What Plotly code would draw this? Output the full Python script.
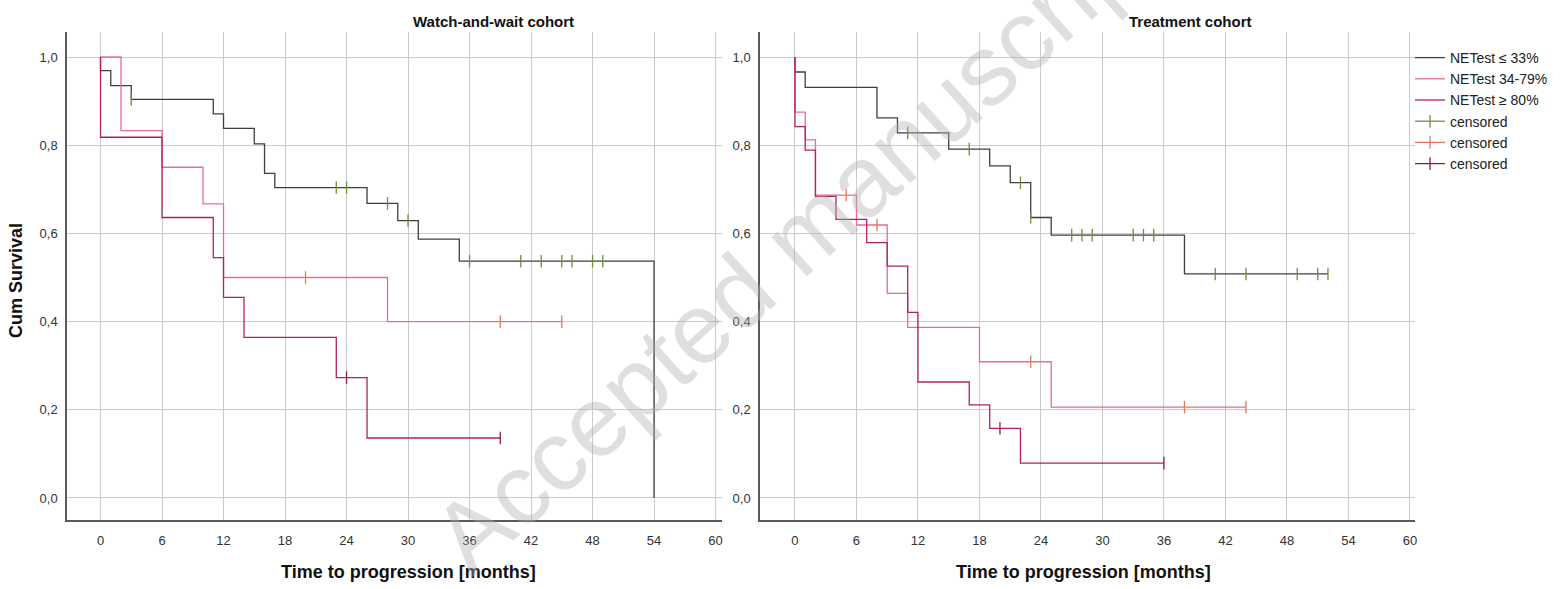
import plotly.graph_objects as go

# ---------------- data ----------------
# Watch-and-wait cohort: event times (months) and survival after each step
ww_low_t = [0, 1, 3, 11, 12, 15, 16, 17, 26, 29, 31, 35, 54]
ww_low_s = [0.969, 0.935, 0.904, 0.871, 0.838, 0.803, 0.736, 0.704, 0.668, 0.629, 0.587, 0.537, 0.0]
ww_low_end = 54
ww_low_cens_t = [3, 23, 24, 28, 30, 36, 41, 43, 45, 46, 48, 49]
ww_low_cens_s = [0.904, 0.704, 0.704, 0.668, 0.629, 0.537, 0.537, 0.537, 0.537, 0.537, 0.537, 0.537]

ww_mid_t = [2, 6, 10, 12, 28]
ww_mid_s = [0.833, 0.750, 0.667, 0.500, 0.400]
ww_mid_end = 45
ww_mid_cens_t = [20, 39, 45]
ww_mid_cens_s = [0.500, 0.400, 0.400]

ww_high_t = [0, 6, 11, 12, 14, 23, 26]
ww_high_s = [0.818, 0.636, 0.545, 0.455, 0.364, 0.273, 0.136]
ww_high_end = 39
ww_high_cens_t = [24, 39]
ww_high_cens_s = [0.273, 0.136]

# Treatment cohort
tr_low_t = [0, 1, 8, 10, 15, 19, 21, 23, 25, 38]
tr_low_s = [0.966, 0.931, 0.862, 0.828, 0.791, 0.753, 0.715, 0.636, 0.596, 0.508]
tr_low_end = 52
tr_low_cens_t = [11, 17, 22, 23, 27, 28, 29, 33, 34, 35, 41, 44, 49, 51, 52]
tr_low_cens_s = [0.828, 0.791, 0.715, 0.636, 0.596, 0.596, 0.596, 0.596, 0.596, 0.596,
                 0.508, 0.508, 0.508, 0.508, 0.508]

tr_mid_t = [0, 1, 2, 6, 9, 11, 18, 25]
tr_mid_s = [0.875, 0.812, 0.687, 0.619, 0.464, 0.387, 0.309, 0.206]
tr_mid_end = 44
tr_mid_cens_t = [5, 8, 23, 38, 44]
tr_mid_cens_s = [0.687, 0.619, 0.309, 0.206, 0.206]

tr_high_t = [0, 1, 2, 4, 7, 9, 11, 12, 17, 19, 22]
tr_high_s = [0.842, 0.789, 0.684, 0.632, 0.579, 0.526, 0.421, 0.263, 0.211, 0.158, 0.079]
tr_high_end = 36
tr_high_cens_t = [20, 36]
tr_high_cens_s = [0.158, 0.079]

group_names = ["NETest \u2264 33%", "NETest 34-79%", "NETest \u2265 80%"]
censor_name = "censored"
x_ticks = [0, 6, 12, 18, 24, 30, 36, 42, 48, 54, 60]
y_ticks = [0.0, 0.2, 0.4, 0.6, 0.8, 1.0]
y_ticktext = ["0,0", "0,2", "0,4", "0,6", "0,8", "1,0"]
panel_titles = ["Watch-and-wait cohort", "Treatment cohort"]
x_title = "Time to progression [months]"
y_title = "Cum Survival"
watermark = "Accepted manuscript"

# ---------------- styles ----------------
line_colors = ["#3f3f3f", "#e56f8a", "#b0235a"]
cens_colors = ["#6f8f3e", "#e8785a", "#8e1c43"]
FONT = "Liberation Sans, Arial, sans-serif"

# figure geometry (pixels)
W, H = 1566, 589
ML, MR, MT, MB = 67, 151, 32, 69
PW, PH = W - ML - MR, H - MT - MB


def px_x(p):
    return (p - ML) / PW


def px_y(p):
    return (H - MB - p) / PH


def step(ts, ss, end):
    xs, ys = [0], [1.0]
    for t, s in zip(ts, ss):
        xs.append(t)
        ys.append(s)
    if xs[-1] < end:
        xs.append(end)
        ys.append(ys[-1])
    return xs, ys


def cens(ts, ss):
    xs, ys = [], []
    for t, s in zip(ts, ss):
        xs += [t, None]
        ys += [s, None]
    return xs, ys


fig = go.Figure()

panels = [
    ("x", "y", [(ww_low_t, ww_low_s, ww_low_end), (ww_mid_t, ww_mid_s, ww_mid_end), (ww_high_t, ww_high_s, ww_high_end)],
     [(ww_low_cens_t, ww_low_cens_s), (ww_mid_cens_t, ww_mid_cens_s), (ww_high_cens_t, ww_high_cens_s)], True),
    ("x2", "y2", [(tr_low_t, tr_low_s, tr_low_end), (tr_mid_t, tr_mid_s, tr_mid_end), (tr_high_t, tr_high_s, tr_high_end)],
     [(tr_low_cens_t, tr_low_cens_s), (tr_mid_cens_t, tr_mid_cens_s), (tr_high_cens_t, tr_high_cens_s)], False),
]

for xa, ya, steps, censs, show in panels:
    for i, (ts, ss, end) in enumerate(steps):
        xs, ys = step(ts, ss, end)
        fig.add_trace(go.Scatter(x=xs, y=ys, mode="lines", line_shape="hv",
                                 line=dict(color=line_colors[i], width=1.3),
                                 name=group_names[i], legendrank=i + 1,
                                 showlegend=show, xaxis=xa, yaxis=ya, hoverinfo="skip"))
    for i, (ts, ss) in enumerate(censs):
        xs, ys = cens(ts, ss)
        fig.add_trace(go.Scatter(x=xs, y=ys, mode="lines+markers",
                                 line=dict(color=cens_colors[i], width=1.3),
                                 marker=dict(symbol="line-ns", size=9,
                                             line=dict(color=cens_colors[i], width=1.3)),
                                 name=censor_name, legendrank=i + 4,
                                 showlegend=show, xaxis=xa, yaxis=ya, hoverinfo="skip"))

axis_common = dict(showgrid=True, gridcolor="#cbcbcb", gridwidth=1, zeroline=False,
                   showline=True, linecolor="#5a5a5a", linewidth=1.5, ticks="",
                   tickfont=dict(family=FONT, size=13, color="#333333"))

fig.update_layout(
    width=W, height=H,
    margin=dict(l=ML, r=MR, t=MT, b=MB),
    paper_bgcolor="white", plot_bgcolor="white",
    font=dict(family=FONT, color="#222222"),
    xaxis=dict(domain=[0, px_x(722)], range=[-3.27, 60.63], tickvals=x_ticks,
               ticklabelstandoff=8, anchor="y", **axis_common),
    yaxis=dict(domain=[0, 1], range=[-0.0499, 1.0567], tickvals=y_ticks, ticktext=y_ticktext,
               ticklabelstandoff=5, anchor="x", **axis_common),
    xaxis2=dict(domain=[px_x(760), 1], range=[-3.41, 60.49], tickvals=x_ticks,
                ticklabelstandoff=8, anchor="y2", **axis_common),
    yaxis2=dict(domain=[0, 1], range=[-0.0499, 1.0567], tickvals=y_ticks, ticktext=y_ticktext,
                ticklabelstandoff=5, anchor="x2", **axis_common),
    legend=dict(x=px_x(1410), y=px_y(42), xanchor="left", yanchor="top",
                font=dict(family=FONT, size=14, color="#222222"),
                bgcolor="rgba(0,0,0,0)", tracegroupgap=0, itemwidth=30),
    showlegend=True,
)


def label(text, x, y, size, angle=0, color="#111111"):
    return dict(text=text, x=px_x(x), y=px_y(y), xref="paper", yref="paper",
                xanchor="center", yanchor="middle", showarrow=False, textangle=angle,
                font=dict(family=FONT, size=size, color=color))


ann = [
    label("<b>%s</b>" % panel_titles[0], 494, 21, 15),
    label("<b>%s</b>" % panel_titles[1], 1190, 21, 15),
    label("<b>%s</b>" % x_title, 408, 572, 18),
    label("<b>%s</b>" % x_title, 1083, 572, 18),
    label("<b>%s</b>" % y_title, 16, 281, 18, angle=-90),
    label(watermark, 795, 240, 100, angle=-42, color="rgba(175,175,175,0.40)"),
]
fig.update_layout(annotations=ann)

fig.write_html("out.html")
